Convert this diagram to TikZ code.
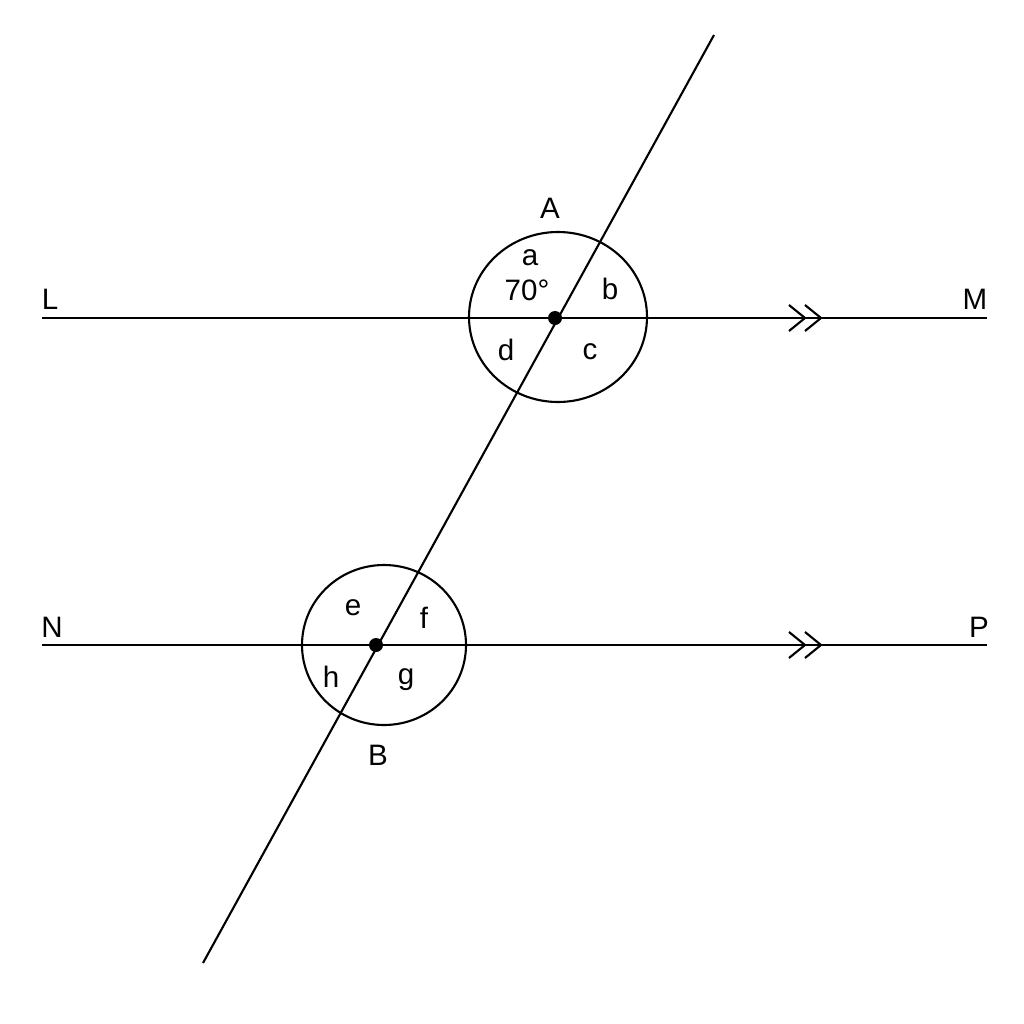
\documentclass[tikz,border=0pt]{standalone}
\usepackage{fontspec}
\setmainfont{Liberation Sans}
\begin{document}
\begin{tikzpicture}[x=0.01cm,y=-0.01cm,line width=0.6pt,
  lbl/.style={font=\fontsize{8.4}{10}\selectfont,inner sep=0pt},
  chev/.style={line width=0.6pt}]
\useasboundingbox (0,0) rectangle (1024,1024);
\coordinate (L0) at (42,318); \coordinate (M0) at (987,318);
\coordinate (N0) at (42,645); \coordinate (P0) at (987,645);
\coordinate (T1) at (714,35); \coordinate (T2) at (203,963);
\coordinate (A) at (555,318); \coordinate (B) at (376,645);
\draw (L0) -- (M0);
\draw (N0) -- (P0);
\draw (T1) -- (T2);
\draw (558,317) ellipse [x radius=89, y radius=85];
\draw (384,645) ellipse [x radius=82, y radius=80];
\fill (A) circle (7);
\fill (B) circle (7);
\foreach \y in {318,645}{
  \draw[chev] (789,\y-13) -- (805,\y) -- (789,\y+13);
  \draw[chev] (805,\y-13) -- (821,\y) -- (805,\y+13);
}
\node[lbl] at (50,299) {L};
\node[lbl] at (975,299) {M};
\node[lbl] at (52,627) {N};
\node[lbl] at (979,627) {P};
\node[lbl] at (550,208) {A};
\node[lbl] at (378,755) {B};
\node[lbl] at (530,258) {a};
\node[lbl] at (527,290) {70°};
\node[lbl] at (610,289) {b};
\node[lbl] at (506,350) {d};
\node[lbl] at (590,352) {c};
\node[lbl] at (353,608) {e};
\node[lbl] at (424,618) {f};
\node[lbl] at (331,677) {h};
\node[lbl] at (406,680) {g};
\end{tikzpicture}
\end{document}
